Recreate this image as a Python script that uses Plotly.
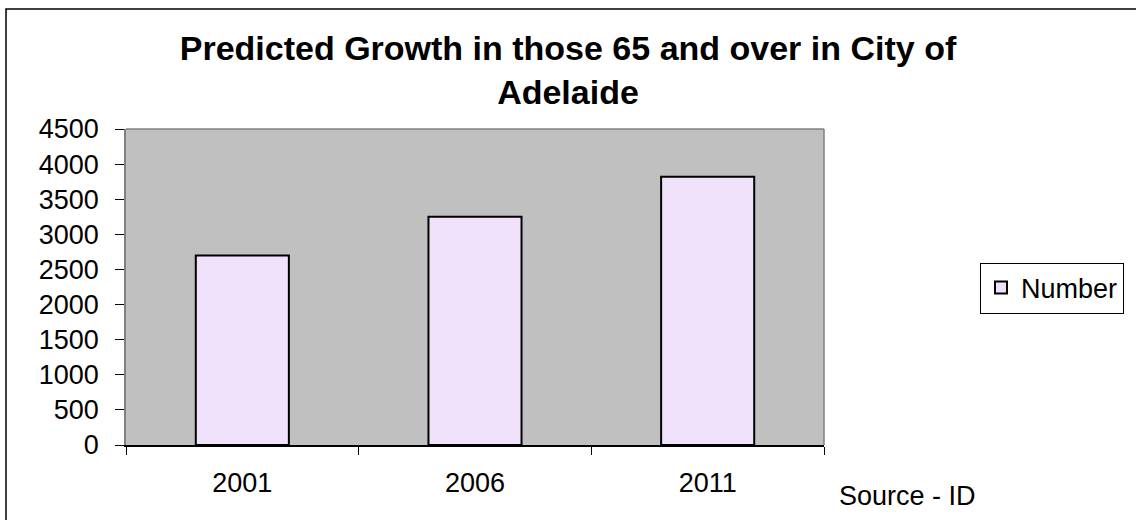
import plotly.graph_objects as go

categories = ["2001", "2006", "2011"]
values = [2700, 3250, 3820]
series_name = "Number"
title_text = "Predicted Growth in those 65 and over in City of<br>Adelaide"
source_text = "Source - ID"

FONT = "Liberation Sans, Arial, sans-serif"

fig = go.Figure()
fig.add_trace(go.Bar(
    x=categories, y=values, name=series_name,
    marker=dict(color="#F0E2FA", line=dict(color="black", width=2)),
    showlegend=True,
))

L, R, T, B = 126, 312, 129, 75
W, H = 1136, 520
pw, ph = W - L - R, H - T - B

def px_x(x):
    return (x - L) / pw

def px_y(y):
    return (H - B - y) / ph

fig.update_layout(
    width=W, height=H,
    margin=dict(l=L, r=R, t=T, b=B, autoexpand=False),
    paper_bgcolor="white",
    plot_bgcolor="#C0C0C0",
    font=dict(family=FONT, size=27, color="black"),
    bargap=0.6,
    title=dict(
        text=title_text,
        font=dict(family=FONT, size=34, color="black", weight="bold"),
        x=568 / W, xanchor="center", xref="container",
        y=1 - 60 / H, yanchor="top", yref="container",
    ),
    xaxis=dict(
        showline=True, linecolor="black", linewidth=1.5,
        ticks="outside", ticklen=8, tickcolor="black", tickwidth=1,
        tickson="boundaries", showgrid=False,
        ticklabelstandoff=13,
        tickfont=dict(size=27),
    ),
    yaxis=dict(
        range=[0, 4500], dtick=500, tick0=0,
        showline=True, linecolor="#808080", linewidth=1.5,
        ticks="outside", ticklen=9, tickcolor="black", tickwidth=1,
        showgrid=False, zeroline=False,
        ticklabelstandoff=11,
        tickfont=dict(size=27),
    ),
    legend=dict(
        x=px_x(980), xanchor="left", xref="paper",
        y=px_y(288), yanchor="middle", yref="paper",
        bordercolor="black", borderwidth=1,
        bgcolor="white",
        font=dict(size=27),
        itemsizing="constant",
    ),
    showlegend=True,
)

# plot area top/right border
fig.add_shape(type="line", xref="paper", yref="paper", x0=0, x1=1, y0=1, y1=1,
              line=dict(color="#808080", width=1.5), layer="above")
fig.add_shape(type="line", xref="paper", yref="paper", x0=1, x1=1, y0=0, y1=1,
              line=dict(color="#808080", width=1.5), layer="above")

# outer chart frame
fig.add_shape(type="rect", xref="paper", yref="paper",
              x0=px_x(6), x1=px_x(1200), y0=px_y(600), y1=px_y(9),
              line=dict(color="black", width=1.5), fillcolor="rgba(0,0,0,0)")

fig.add_annotation(
    text=source_text, xref="paper", yref="paper",
    x=px_x(907), y=px_y(496), xanchor="center", yanchor="middle",
    showarrow=False, font=dict(size=27),
)

fig.write_html("out.html")
